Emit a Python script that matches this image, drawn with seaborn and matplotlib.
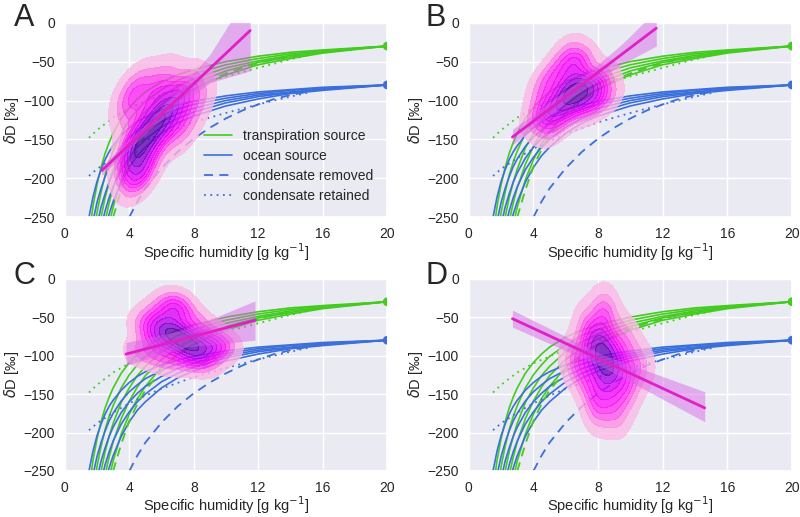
"""
Four-panel humidity vs deltaD figure: mixing curves + KDE of observations
"""

import numpy as np
import matplotlib
matplotlib.use("Agg")
import matplotlib.pyplot as plt
from matplotlib.colors import LinearSegmentedColormap
from matplotlib.lines import Line2D
import seaborn as sns

sns.set_theme(style="darkgrid")
plt.rcParams["font.family"] = ["Liberation Sans", "DejaVu Sans"]

GREEN = "#42cc1e"
BLUE = "#3b6fdc"
MAGENTA = "#e21fc6"

nan = np.nan

# specific humidity sample points for the source curves
Q = [1.5, 1.75, 2, 2.25, 2.5, 2.75, 3, 3.5, 4, 4.5, 5, 6, 7, 8, 10, 12, 14, 16, 20]

# transpiration source curves (solid green)
green_1 = [-274, -236, -208, -186, -168, -154, -142, -123, -109, -98, -89, -76, -67, -60, -50, -43, -38, -35, -30]
green_2 = [-323, -278, -244, -218, -196, -179, -165, -142, -125, -112, -101, -86, -74, -66, -54, -46, -40, -36, -30]
green_3 = [nan, -321, -281, -250, -225, -205, -188, -161, -142, -126, -114, -95, -82, -72, -58, -49, -42, -37, -30]
green_4 = [nan, nan, -319, -284, -255, -232, -212, -182, -159, -141, -126, -105, -90, -78, -62, -51, -44, -38, -30]
green_5 = [nan, nan, nan, -318, -286, -259, -237, -202, -176, -156, -140, -115, -98, -85, -67, -54, -46, -39, -30]

# ocean source curves (solid blue)
blue_1 = [-250, -224, -204, -189, -176, -166, -158, -145, -135, -127, -121, -112, -106, -101, -94, -89, -86, -83, -80]
blue_2 = [-287, -255, -231, -213, -198, -185, -175, -159, -147, -138, -130, -119, -111, -105, -97, -91, -87, -84, -80]
blue_3 = [nan, -288, -260, -237, -220, -205, -193, -174, -160, -149, -140, -127, -117, -110, -100, -93, -89, -85, -80]
blue_4 = [nan, nan, -289, -263, -242, -225, -211, -189, -173, -160, -150, -134, -123, -115, -103, -95, -90, -86, -80]
blue_5 = [nan, nan, nan, -289, -266, -246, -230, -205, -186, -171, -160, -142, -129, -120, -107, -98, -91, -87, -80]

# condensate removed (dashed) and retained (dotted)
green_removed_q = [3.0, 3.5, 4, 4.5, 5, 6, 7, 8, 9, 10, 11, 12, 13, 14.5]
green_removed_d = [-250, -215, -185, -163, -145, -120, -100, -86, -74, -65, -58, -52, -47, -42]
blue_removed_q = [4.0, 4.5, 5, 6, 7, 8, 9, 10, 11, 12, 13, 14, 15]
blue_removed_d = [-250, -230, -213, -187, -166, -149, -135, -123, -113, -105, -98, -93, -89]
green_retained_q = [1.5, 2, 3, 4, 5, 6, 7, 8, 9, 10, 12, 14, 15.3]
green_retained_d = [-148, -138, -122, -110, -101, -93, -86, -80, -75, -69, -58, -47, -41]
blue_retained_q = [1.5, 2, 3, 4, 5, 6, 8, 10, 12, 14, 15.3]
blue_retained_d = [-197, -188, -174, -162, -152, -143, -128, -116, -105, -95, -89]

source_q = [20, 20]
source_d = [-30, -80]

# observations per panel (sample points for the density)
obs_a_q = [4.5, 4.8, 5.2, 5.6, 6.0, 6.5, 4.2, 3.9, 4.6, 5.5, 7.0, 7.8, 8.4, 4.0, 5.0, 6.2, 3.9, 5.8, 4.4, 6.8, 4.8, 7.4]
obs_a_d = [-155, -150, -140, -130, -120, -110, -165, -180, -188, -95, -92, -80, -100, -115, -192, -72, -92, -150, -200, -125, -78, -140]
obs_b_q = [6.5, 6.8, 6.2, 7.0, 6.0, 7.3, 5.6, 7.8, 5.0, 8.3, 6.5, 6.0, 4.5, 4.2, 5.4, 7.0, 8.6, 6.2, 5.0, 7.5, 4.7]
obs_b_d = [-90, -85, -95, -100, -80, -75, -105, -90, -118, -70, -55, -120, -100, -125, -60, -48, -95, -35, -140, -110, -78]
obs_c_q = [7.0, 7.4, 6.8, 7.8, 6.4, 8.2, 6.0, 8.8, 5.4, 9.5, 7.2, 6.5, 4.7, 5.1, 7.5, 8.5, 6.2, 7.0, 9.8, 5.8, 8.5]
obs_c_d = [-75, -80, -70, -90, -65, -85, -85, -95, -75, -90, -45, -38, -98, -58, -105, -60, -108, -28, -82, -48, -110]
obs_d_q = [8.3, 8.5, 8.2, 8.6, 8.0, 8.8, 7.4, 9.3, 7.0, 10.0, 8.3, 8.4, 7.3, 9.7, 7.9, 9.1, 6.4, 10.7, 8.5, 7.6, 9.6]
obs_d_d = [-95, -110, -85, -125, -100, -115, -90, -105, -120, -130, -55, -150, -60, -75, -175, -178, -105, -110, -35, -145, -150]

# regression lines and confidence bands
fit_a_q, fit_a_d = [2.3, 11.5], [-190, -10]
band_a_q, band_a_lo, band_a_hi = [2.3, 5.5, 9, 11.5], [-196, -133, -77, -62], [-184, -121, -41, 42]
fit_b_q, fit_b_d = [2.7, 11.6], [-147, -7]
band_b_q, band_b_lo, band_b_hi = [2.7, 6.5, 9.5, 11.6], [-157, -94, -53, -30], [-137, -80, -27, 16]
fit_c_q, fit_c_d = [3.8, 11.8], [-98, -54]
band_c_q, band_c_lo, band_c_hi = [3.8, 7.5, 11.8], [-113, -89, -80], [-83, -66, -29]
fit_d_q, fit_d_d = [2.7, 14.6], [-52, -168]
band_d_q, band_d_lo, band_d_hi = [2.7, 8.3, 14.6], [-63, -115, -186], [-41, -99, -147]

density_cmap = LinearSegmentedColormap.from_list(
    "pinkpurple", ["#fcd0ea", "#ff9ce0", "#ff48ee", "#ff10fa", "#e400fa", "#b400ea", "#7c00c8", "#5000a0"])


def draw_curves(ax):
    for d in [green_1, green_2, green_3, green_4, green_5]:
        ax.plot(Q, d, color=GREEN, lw=1.2)
    for d in [blue_1, blue_2, blue_3, blue_4, blue_5]:
        ax.plot(Q, d, color=BLUE, lw=1.2)
    ax.plot(green_removed_q, green_removed_d, color=GREEN, lw=1.3, dashes=(5, 3.5))
    ax.plot(blue_removed_q, blue_removed_d, color=BLUE, lw=1.3, dashes=(5, 3.5))
    ax.plot(green_retained_q, green_retained_d, color=GREEN, lw=1.3, dashes=(1, 2.5))
    ax.plot(blue_retained_q, blue_retained_d, color=BLUE, lw=1.3, dashes=(1, 2.5))
    ax.scatter(source_q, source_d, c=[GREEN, BLUE], s=40, zorder=5, edgecolor="none")


def draw_panel(ax, obs_q, obs_d, fit_q, fit_d, band_q, band_lo, band_hi, letter, lx, ly):
    draw_curves(ax)
    sns.kdeplot(x=obs_q, y=obs_d, fill=True, levels=10, thresh=0.05, cmap=density_cmap,
                alpha=0.78, bw_adjust=0.95, ax=ax, zorder=3)
    ax.fill_between(band_q, band_lo, band_hi, color="#d65ee8", alpha=0.45, lw=0, zorder=4)
    ax.plot(fit_q, fit_d, color=MAGENTA, lw=2, zorder=5)

    ax.set_xlim(0, 20)
    ax.set_ylim(-250, 0)
    ax.set_xticks([0, 4, 8, 12, 16, 20])
    ax.set_yticks([0, -50, -100, -150, -200, -250])
    ax.tick_params(labelsize=10, pad=1)
    ax.set_xlabel("Specific humidity [g kg$^{-1}$]", fontsize=10.5, labelpad=0)
    ax.set_ylabel(r"$\delta$D [‰]", fontsize=10.5, labelpad=2)
    ax.figure.text(lx, ly, letter, fontsize=22, ha="center", va="center")


fig = plt.figure(figsize=(8, 5.17), dpi=100)
ax_a = fig.add_axes([0.081, 0.580, 0.403, 0.376])
ax_b = fig.add_axes([0.586, 0.580, 0.404, 0.376])
ax_c = fig.add_axes([0.081, 0.089, 0.403, 0.372])
ax_d = fig.add_axes([0.586, 0.089, 0.404, 0.372])

draw_panel(ax_a, obs_a_q, obs_a_d, fit_a_q, fit_a_d, band_a_q, band_a_lo, band_a_hi, "A", 0.03, 0.965)
draw_panel(ax_b, obs_b_q, obs_b_d, fit_b_q, fit_b_d, band_b_q, band_b_lo, band_b_hi, "B", 0.545, 0.965)
draw_panel(ax_c, obs_c_q, obs_c_d, fit_c_q, fit_c_d, band_c_q, band_c_lo, band_c_hi, "C", 0.03, 0.466)
draw_panel(ax_d, obs_d_q, obs_d_d, fit_d_q, fit_d_d, band_d_q, band_d_lo, band_d_hi, "D", 0.545, 0.466)

handles = [
    Line2D([], [], color=GREEN, lw=1.2),
    Line2D([], [], color=BLUE, lw=1.2),
    Line2D([], [], color=BLUE, lw=1.3, dashes=(5, 3.5)),
    Line2D([], [], color=BLUE, lw=1.3, dashes=(1, 2.5)),
]
labels = ["transpiration source", "ocean source", "condensate removed", "condensate retained"]
ax_a.legend(handles, labels, loc="lower right", frameon=False, fontsize=10,
            handlelength=2.0, labelspacing=0.45, borderaxespad=0.6)

fig.savefig("out.png", dpi=100)
